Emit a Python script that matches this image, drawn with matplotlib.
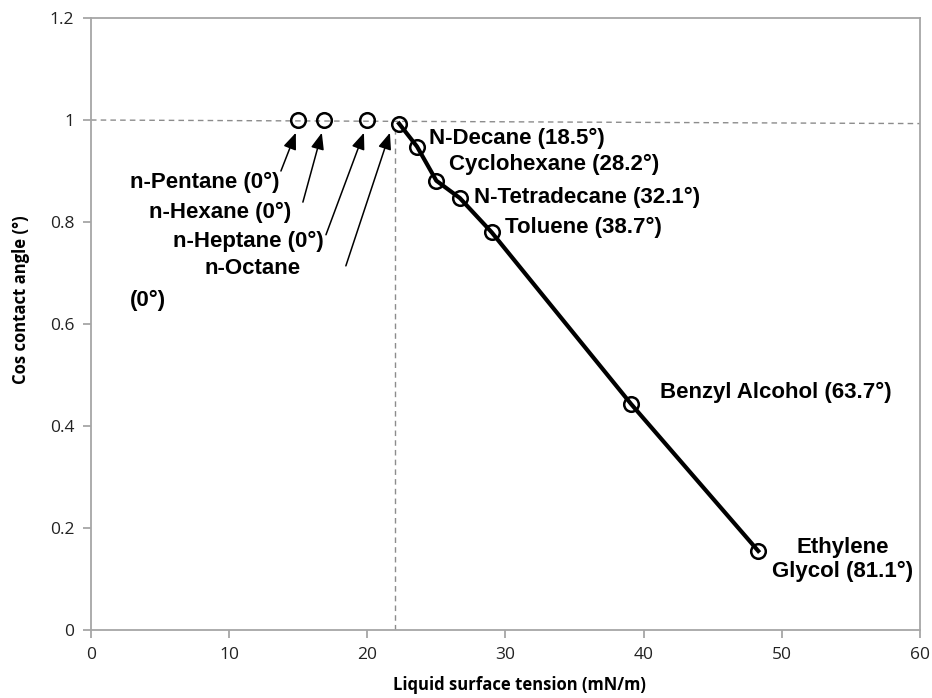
import numpy as np
import matplotlib
matplotlib.use("Agg")
import matplotlib.pyplot as plt

# liquids wetting fully (cos = 1), shown as markers only
zero_names = ["n-Pentane (0°)", "n-Hexane (0°)", "n-Heptane (0°)"]
zero_tension = [15.0, 16.9, 20.0]
zero_cos = [1.0, 1.0, 1.0]

# liquids along the fitted curve (n-Octane first)
liquids = ["n-Octane", "N-Decane", "Cyclohexane", "N-Tetradecane", "Toluene",
           "Benzyl Alcohol", "Ethylene Glycol"]
angles = [0.0, 18.5, 28.2, 32.1, 38.7, 63.7, 81.1]
tension = [22.3, 23.6, 25.0, 26.7, 29.0, 39.1, 48.3]
cos_angle = [0.993, 0.948, 0.881, 0.847, 0.780, 0.443, 0.155]

critical_tension = 22.0

fig = plt.figure(figsize=(9.32, 6.98), dpi=100)
ax = fig.add_axes([0.0976, 0.0974, 0.8894, 0.8768])

grey = "#a6a6a6"
ax.plot([0, 60], [1.0, 0.993], ls=(0, (4, 3)), color="#8c8c8c", lw=1.0, zorder=1)
ax.plot([critical_tension, critical_tension], [0, 0.985], ls=(0, (4, 3)),
        color="#8c8c8c", lw=1.0, zorder=1)

ax.plot(tension, cos_angle, color="black", lw=3.0, zorder=3)
ax.plot(tension, cos_angle, "o", ms=10.5, mfc="none", mec="black", mew=1.8,
        zorder=4, ls="none")
ax.plot(zero_tension, zero_cos, "o", ms=10.5, mfc="none", mec="black", mew=1.8,
        zorder=4, ls="none")

ax.set_xlim(0, 60)
ax.set_ylim(0, 1.2)
ax.set_xticks(np.arange(0, 61, 10))
ax.set_yticks(np.arange(0, 1.21, 0.2))
ax.set_yticklabels(["0", "0.2", "0.4", "0.6", "0.8", "1", "1.2"])
for s in ax.spines.values():
    s.set_color(grey)
    s.set_linewidth(1.3)
ax.tick_params(direction="out", length=6, width=1.3, color=grey,
               labelsize=12.5, labelcolor="#222222", pad=6)
for lab in ax.get_xticklabels() + ax.get_yticklabels():
    lab.set_family("Open Sans")

ax.set_xlabel("Liquid surface tension (mN/m)", fontsize=12, fontweight="bold",
              family="Open Sans")
ax.set_ylabel("Cos contact angle (°)", fontsize=12, fontweight="bold",
              family="Open Sans")
ax.xaxis.set_label_coords(0.517, -0.075)
ax.yaxis.set_label_coords(-0.073, 0.54)

tf = dict(fontsize=16, fontweight="bold", family="Liberation Sans", va="center")

# arrows from left-hand labels to the zero-angle points
arrow_tails = [(13.75, 0.900), (15.34, 0.839), (17.01, 0.775), (18.45, 0.714)]
arrow_heads = [(14.83, 0.975), (16.71, 0.975), (19.76, 0.975), (21.64, 0.975)]
for tail, head in zip(arrow_tails, arrow_heads):
    ax.annotate("", xy=head, xytext=tail,
                arrowprops=dict(arrowstyle="-|>,head_length=1.0,head_width=0.4",
                                mutation_scale=10, color="black", lw=1.1,
                                shrinkA=0, shrinkB=0))

left_pos = [(2.83, 0.877), (4.2, 0.818), (5.93, 0.761), (8.25, 0.708)]
for name, pos in zip(zero_names + ["n-Octane"], left_pos):
    ax.text(pos[0], pos[1], name, ha="left", **tf)
ax.text(2.83, 0.647, "(0°)", ha="left", **tf)

right_pos = [(24.5, 0.963), (25.9, 0.912), (27.7, 0.849), (30.0, 0.790), (41.2, 0.466)]
for i, pos in enumerate(right_pos):
    ax.text(pos[0], pos[1], f"{liquids[i + 1]} ({angles[i + 1]}°)", ha="left", **tf)
ax.text(54.4, 0.138, f"Ethylene\nGlycol ({angles[-1]}°)", ha="center",
        linespacing=1.2, **tf)

fig.savefig("out.png", dpi=100)
